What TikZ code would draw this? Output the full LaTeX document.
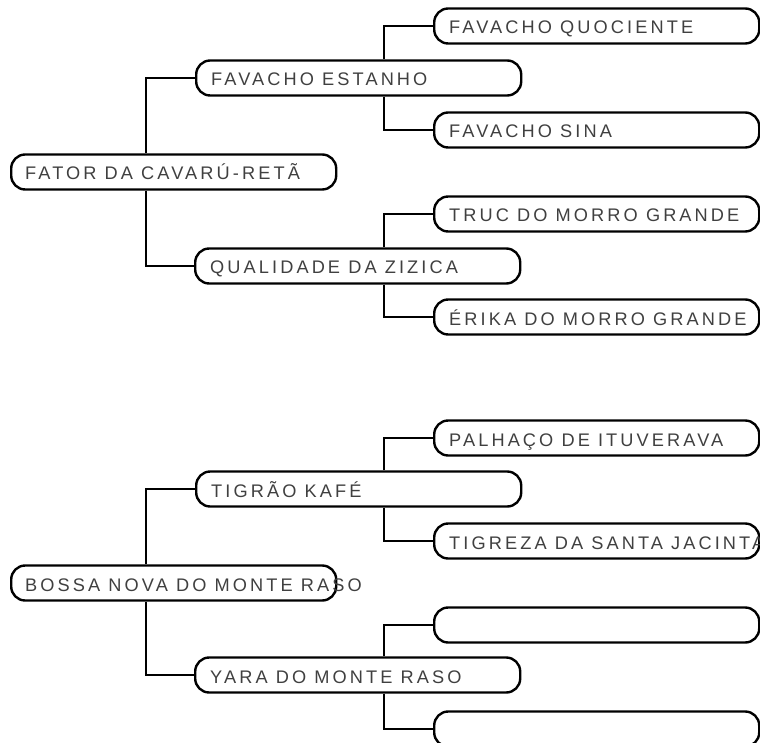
\documentclass[tikz,border=0pt]{standalone}
\usepackage{fontspec}
\setmainfont{Liberation Sans}[LetterSpace=17]
\usetikzlibrary{calc}
\definecolor{txtgray}{HTML}{404040}
\tikzset{
  pill/.style={draw=black, line width=2.4pt, rounded corners=14pt, minimum width=325pt, minimum height=35pt, inner sep=0pt, fill=white},
  lbl/.style={anchor=base west, inner sep=0pt, text=txtgray, font=\fontsize{18.2}{20}\selectfont},
  conn/.style={draw=black, line width=2.4pt, line join=miter}
}
\begin{document}
\begin{tikzpicture}[x=1pt, y=-1pt]
\useasboundingbox (0,0) rectangle (760,743);
% ---------- tree 1 ----------
\node[pill, anchor=west] (r1) at (10,172) {};
\node[pill, anchor=west] (fe) at (195,78) {};
\node[pill, anchor=west] (fq) at (433,26) {};
\node[pill, anchor=west] (fs) at (433,130) {};
\node[pill, anchor=west] (qz) at (194,266) {};
\node[pill, anchor=west] (tm) at (433,214) {};
\node[pill, anchor=west] (em) at (433,317) {};
% ---------- tree 2 ----------
\node[pill, anchor=west] (r2) at (10,583) {};
\node[pill, anchor=west] (tk) at (195,489) {};
\node[pill, anchor=west] (pi) at (433,438) {};
\node[pill, anchor=west] (ts) at (433,541) {};
\node[pill, anchor=west] (ym) at (194,675) {};
\node[pill, anchor=west] (e1) at (433,625) {};
\node[pill, anchor=west] (e2) at (433,729) {};
% ---------- connectors ----------
\draw[conn] ($(r1.north west)+(136,0)$) |- (fe.west);
\draw[conn] ($(r1.south west)+(136,0)$) |- (qz.west);
\draw[conn] ($(fe.north west)+(189,0)$) |- (fq.west);
\draw[conn] ($(fe.south west)+(189,0)$) |- (fs.west);
\draw[conn] ($(qz.north west)+(190,0)$) |- (tm.west);
\draw[conn] ($(qz.south west)+(190,0)$) |- (em.west);
\draw[conn] ($(r2.north west)+(136,0)$) |- (tk.west);
\draw[conn] ($(r2.south west)+(136,0)$) |- (ym.west);
\draw[conn] ($(tk.north west)+(189,0)$) |- (pi.west);
\draw[conn] ($(tk.south west)+(189,0)$) |- (ts.west);
\draw[conn] ($(ym.north west)+(190,0)$) |- (e1.west);
\draw[conn] ($(ym.south west)+(190,0)$) |- (e2.west);
% ---------- labels ----------
\node[lbl] (tr1) at ($(r1.west)+(15,8)$) {FATOR DA CAVARÚ-RETÃ};
\node[lbl] (tfe) at ($(fe.west)+(16,8)$) {FAVACHO ESTANHO};
\node[lbl] (tfq) at ($(fq.west)+(16,8)$) {FAVACHO QUOCIENTE};
\node[lbl] (tfs) at ($(fs.west)+(16,8)$) {FAVACHO SINA};
\node[lbl] (tqz) at ($(qz.west)+(16,8)$) {QUALIDADE DA ZIZICA};
\node[lbl] (ttm) at ($(tm.west)+(16,8)$) {TRUC DO MORRO GRANDE};
\node[lbl] (tem) at ($(em.west)+(16,8)$) {ÉRIKA DO MORRO GRANDE};
\node[lbl] (tr2) at ($(r2.west)+(15,8)$) {BOSSA NOVA DO MONTE RASO};
\node[lbl] (ttk) at ($(tk.west)+(16,8)$) {TIGRÃO KAFÉ};
\node[lbl] (tpi) at ($(pi.west)+(16,8)$) {PALHAÇO DE ITUVERAVA};
\node[lbl] (tts) at ($(ts.west)+(16,8)$) {TIGREZA DA SANTA JACINTA};
\node[lbl] (tym) at ($(ym.west)+(16,8)$) {YARA DO MONTE RASO};
\end{tikzpicture}
\end{document}
